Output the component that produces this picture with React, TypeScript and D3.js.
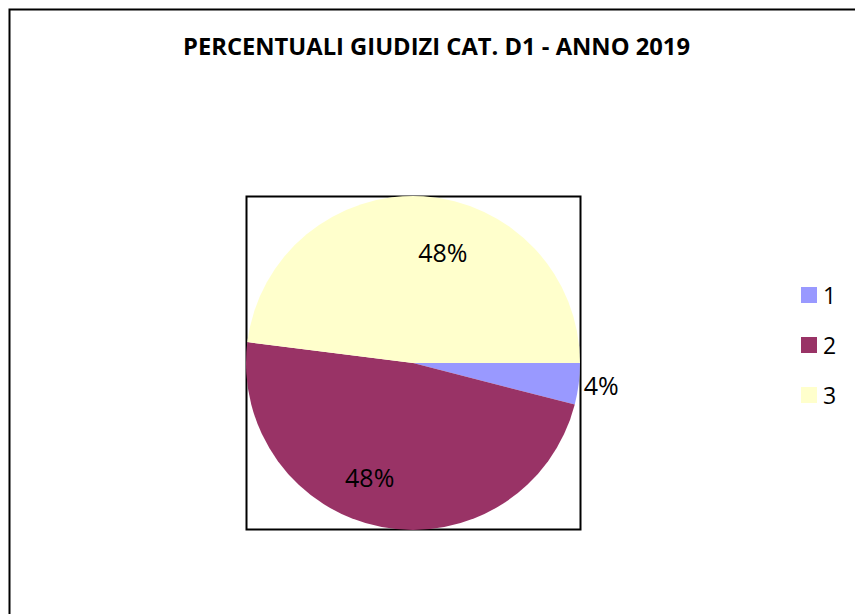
import * as d3 from "d3";

const categories = ["1", "2", "3"];
const values = [1, 12, 12];
const colors = ["#9999FF", "#993366", "#FFFFCC"];
const title = "PERCENTUALI GIUDIZI CAT. D1 - ANNO 2019";

const WIDTH = 855;
const HEIGHT = 614;

const App = () => {
  const cx = 413;
  const cy = 363;
  const radius = 167;

  const total = d3.sum(values);
  // excel-style pie: first slice starts at 3 o'clock, clockwise
  const pie = d3
    .pie<number>()
    .sort(null)
    .startAngle(Math.PI / 2)
    .endAngle(Math.PI / 2 + 2 * Math.PI);
  const arcs = pie(values);

  const arc = d3.arc<d3.PieArcDatum<number>>().innerRadius(0).outerRadius(radius);

  const fmt = d3.format(".0%");

  // "best fit" label placement: radius factor and angle nudge per slice
  const labelRadius = [1.03, 0.73, 0.69];
  const labelNudge = [0, 10, 11.4];
  const labels = arcs.map((a, i) => {
    const mid = (a.startAngle + a.endAngle) / 2 + (labelNudge[i] * Math.PI) / 180;
    const r = radius * labelRadius[i];
    return {
      x: Math.sin(mid) * r,
      y: -Math.cos(mid) * r,
      text: fmt(a.value / total),
      anchor: i === 0 ? "start" : "middle",
    };
  });

  const legendY = d3.scalePoint<string>().domain(categories).range([295, 395]);

  return (
    <svg
      width={WIDTH}
      height={HEIGHT}
      style={{ position: "absolute", left: 0, top: 0 }}
      fontFamily="'Open Sans', sans-serif"
    >
      <rect x={0} y={0} width={WIDTH} height={HEIGHT} fill="white" />
      <path d={`M9.5,${HEIGHT} V9.5 H${WIDTH}`} fill="none" stroke="black" strokeWidth={2} />
      <text
        x={183}
        y={54.5}
        fontSize={23}
        fontWeight="bold"
        textLength={507}
        lengthAdjust="spacingAndGlyphs"
      >
        {title}
      </text>
      <rect x={246.5} y={196.5} width={334} height={333} fill="white" stroke="black" strokeWidth={2} />
      <g transform={`translate(${cx},${cy})`}>
        {arcs.map((a, i) => (
          <path key={i} d={arc(a) ?? ""} fill={colors[i]} />
        ))}
        {labels.map((l, i) => (
          <text
            key={i}
            x={l.x}
            y={l.y}
            textAnchor={l.anchor}
            dominantBaseline="central"
            fontSize={25}
          >
            {l.text}
          </text>
        ))}
      </g>
      {categories.map((c, i) => (
        <g key={c} transform={`translate(801,${legendY(c)})`}>
          <rect x={0} y={-8} width={16} height={16} fill={colors[i]} />
          <text x={22} y={0} dominantBaseline="central" fontSize={23}>
            {c}
          </text>
        </g>
      ))}
    </svg>
  );
};

export default App;
